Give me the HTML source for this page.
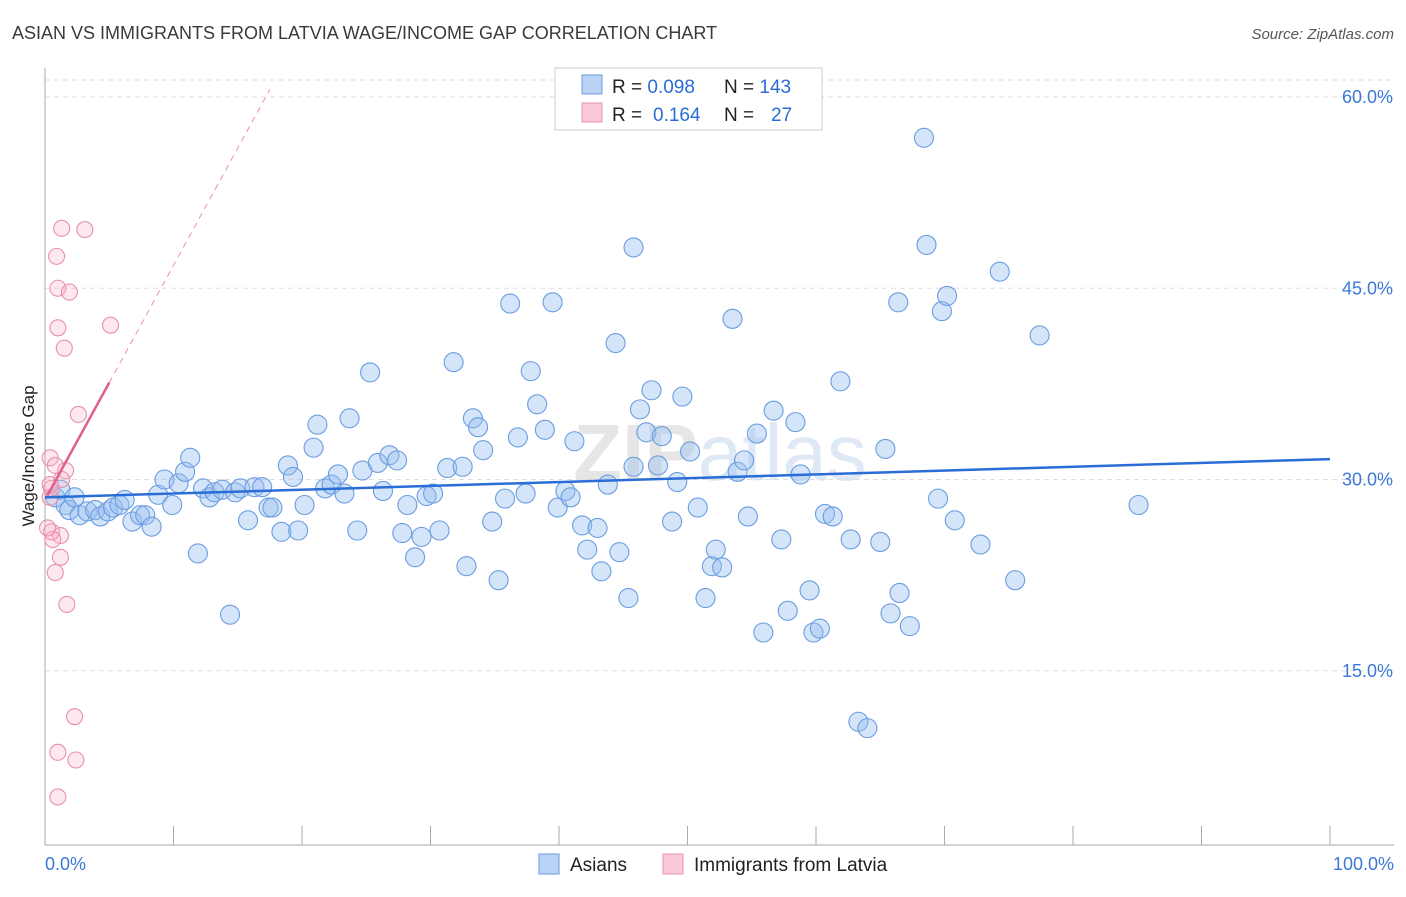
<!DOCTYPE html>
<html><head><meta charset="utf-8"><style>
body{margin:0;background:#fff;font-family:"Liberation Sans",sans-serif;}
</style></head><body>
<svg id="c" width="1406" height="892" xmlns="http://www.w3.org/2000/svg">
<text x="12" y="39" font-size="18" fill="#3a3a3a">ASIAN VS IMMIGRANTS FROM LATVIA WAGE/INCOME GAP CORRELATION CHART</text>
<text x="1394" y="39" font-size="15" fill="#555" font-style="italic" text-anchor="end">Source: ZipAtlas.com</text>
<text x="720" y="480" font-size="80" fill="#e6e6e6" text-anchor="middle" font-weight="bold">ZIP<tspan fill="#dfe8f5" font-weight="normal">atlas</tspan></text>
<text transform="translate(34,456) rotate(-90)" font-size="17" fill="#222" text-anchor="middle">Wage/Income Gap</text>
<g id="grid"></g><g id="axes"></g><g id="pts"></g><g id="trend"></g>
<g>
<rect x="555" y="68" width="267" height="62" fill="#fff" stroke="#ccc"/>
<rect x="582" y="75" width="20" height="19" fill="#b9d2f5" stroke="#6a9de0"/>
<rect x="582" y="103" width="20" height="19" fill="#fbcad8" stroke="#e890ae"/>
<text x="612" y="93" font-size="19" fill="#222">R = <tspan fill="#2a6dd6">0.098</tspan><tspan x="724">N = </tspan><tspan fill="#2a6dd6">143</tspan></text>
<text x="612" y="121" font-size="19" fill="#222">R = <tspan fill="#2a6dd6" x="653">0.164</tspan><tspan x="724">N = </tspan><tspan fill="#2a6dd6" x="771">27</tspan></text>
</g>
<g>
<rect x="539" y="854" width="20" height="20" fill="#b9d2f5" stroke="#6a9de0"/>
<text x="570" y="871" font-size="19" fill="#222">Asians</text>
<rect x="663" y="854" width="20" height="20" fill="#fbcad8" stroke="#e890ae"/>
<text x="694" y="871" font-size="19" fill="#222">Immigrants from Latvia</text>
</g>
</svg>
<script>
const yTicks=[15,30,45,60];
const yTickLabels=["15.0%","30.0%","45.0%","60.0%"];
const xLabels=["0.0%","100.0%"];
const asianX=[0.8,1.2,1.6,1.9,2.3,2.7,3.3,3.9,4.3,4.9,5.3,5.8,6.2,6.8,7.4,7.8,8.3,8.8,9.3,9.9,10.4,10.9,11.3,11.9,12.3,12.8,13.2,13.8,14.4,14.8,15.2,15.8,16.3,16.9,17.4,17.7,18.4,18.9,19.3,19.7,20.2,20.9,21.2,21.8,22.3,22.8,23.3,23.7,24.3,24.7,25.3,25.9,26.3,26.8,27.4,27.8,28.2,28.8,29.3,29.7,30.2,30.7,31.3,31.8,32.5,32.8,33.3,33.7,34.1,34.8,35.3,35.8,36.2,36.8,37.4,37.8,38.3,38.9,39.5,39.9,40.5,40.9,41.2,41.8,42.2,43.0,43.3,43.8,44.4,44.7,45.4,45.8,46.3,46.8,47.2,47.7,48.0,48.8,49.2,49.6,50.2,50.8,51.4,51.9,52.2,52.7,53.5,53.9,54.4,54.7,55.4,55.9,56.7,57.3,57.8,58.4,58.8,59.5,59.8,60.3,60.7,61.3,61.9,62.7,63.3,64.0,65.0,65.4,65.8,66.4,66.5,67.3,68.4,68.6,69.5,69.8,70.2,70.8,72.8,74.3,75.5,77.4,85.1,45.8];
const asianY=[28.6,29.2,28.0,27.6,28.6,27.2,27.5,27.6,27.1,27.5,27.8,28.0,28.4,26.7,27.2,27.2,26.3,28.8,30.0,28.0,29.7,30.6,31.7,24.2,29.3,28.6,29.0,29.2,19.4,29.0,29.3,26.8,29.4,29.4,27.8,27.8,25.9,31.1,30.2,26.0,28.0,32.5,34.3,29.3,29.6,30.4,28.9,34.8,26.0,30.7,38.4,31.3,29.1,31.9,31.5,25.8,28.0,23.9,25.5,28.7,28.9,26.0,30.9,39.2,31.0,23.2,34.8,34.1,32.3,26.7,22.1,28.5,43.8,33.3,28.9,38.5,35.9,33.9,43.9,27.8,29.1,28.6,33.0,26.4,24.5,26.2,22.8,29.6,40.7,24.3,20.7,31.0,35.5,33.7,37.0,31.1,33.4,26.7,29.8,36.5,32.2,27.8,20.7,23.2,24.5,23.1,42.6,30.6,31.5,27.1,33.6,18.0,35.4,25.3,19.7,34.5,30.4,21.3,18.0,18.3,27.3,27.1,37.7,25.3,11.0,10.5,25.1,32.4,19.5,43.9,21.1,18.5,56.8,48.4,28.5,43.2,44.4,26.8,24.9,46.3,22.1,41.3,28.0,48.2];
const latX=[0.4,0.5,0.8,0.9,1.0,1.0,1.2,1.3,1.5,1.6,1.7,1.9,2.3,2.4,2.6,1.0,1.0,3.1,5.1,0.4,0.5,0.6,1.2,0.2,0.4,1.3,0.8];
const latY=[28.6,29.3,22.7,47.5,45.0,41.9,25.6,49.7,40.3,30.7,20.2,44.7,11.4,8.0,35.1,8.6,5.1,49.6,42.1,31.7,25.9,25.3,23.9,26.2,29.6,30.0,31.1];
const asianTrend=[28.6,31.6];
const latTrend=[28.4,1.84];
const NS="http://www.w3.org/2000/svg";
const X=v=>45+v*12.85, Y=v=>862-v*12.75;
function mk(tag,attrs,parent){const e=document.createElementNS(NS,tag);for(const k in attrs)e.setAttribute(k,attrs[k]);document.getElementById(parent).appendChild(e);return e;}
mk('line',{x1:45,x2:1394,y1:80,y2:80,stroke:'#ddd','stroke-dasharray':'5,4'},'grid');
yTicks.forEach((t,i)=>{
 const l=mk('line',{x1:45,x2:1394,y1:Y(t),y2:Y(t),stroke:'#ddd','stroke-dasharray':'5,4'},'grid');
 
 
 const tx=mk('text',{x:1393,y:Y(t)+6,'font-size':18,fill:'#3b78d8','text-anchor':'end'},'grid');
 tx.textContent=yTickLabels[i];
 
 
});
mk('line',{x1:45,x2:45,y1:68,y2:845,stroke:'#aaa'},'axes');
mk('line',{x1:45,x2:1394,y1:845,y2:845,stroke:'#aaa'},'axes');
for(let k=0;k<=10;k++){mk('line',{x1:X(k*10),x2:X(k*10),y1:826,y2:845,stroke:'#aaa'},'axes');}
[[0,'start',45],[100,'end',1394]].forEach((d,i)=>{
 const t=mk('text',{x:d[2],y:870,'font-size':18,fill:'#3b78d8','text-anchor':d[1]},'axes');
 t.textContent=xLabels[i];
 
 
});
asianX.forEach((x,i)=>{
 const c=mk('circle',{cx:X(x),cy:Y(asianY[i]),r:9.5,fill:'rgba(150,190,240,0.4)',stroke:'#6a9de0','stroke-width':1.1},'pts');
 
 
});
latX.forEach((x,i)=>{
 const c=mk('circle',{cx:X(x),cy:Y(latY[i]),r:8,fill:'rgba(248,180,200,0.3)',stroke:'#e890ae','stroke-width':1.1},'pts');
 
 
});
const bt=mk('line',{x1:X(0),y1:Y(asianTrend[0]),x2:X(100),y2:Y(asianTrend[1]),stroke:'#2a6dd6','stroke-width':2.5},'trend');


const lt=mk('line',{x1:X(0.2),y1:Y(latTrend[0]+latTrend[1]*0.2),x2:X(5),y2:Y(latTrend[0]+latTrend[1]*5),stroke:'#e0608a','stroke-width':2.5},'trend');


const ld=mk('line',{x1:X(5),y1:Y(latTrend[0]+latTrend[1]*5),x2:X(17.5),y2:Y(latTrend[0]+latTrend[1]*17.5),stroke:'#e890ae','stroke-width':1,'stroke-dasharray':'6,5'},'trend');


</script>
</body></html>
